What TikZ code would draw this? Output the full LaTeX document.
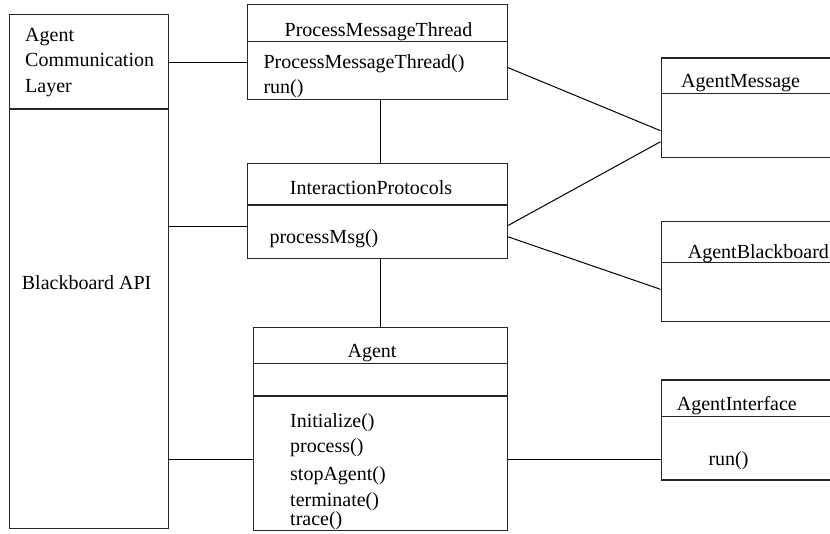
\documentclass[tikz,border=0pt]{standalone}
\usepackage{fontspec}
\setmainfont{Liberation Serif}
\begin{document}
\begin{tikzpicture}[x=1pt,y=-1pt,
  classbox/.style={draw=black!85, line width=1.2pt, inner sep=0pt, anchor=north west},
  rule/.style={draw=black!85, line width=1.1pt},
  link/.style={draw=black, line width=1pt},
  txt/.style={inner sep=0pt, font=\fontsize{20}{24}\selectfont},
  lefttxt/.style={txt, anchor=base west},
  midtxt/.style={txt, anchor=base}]
% canvas; the right-hand classes run past its edge
\clip (0,0) rectangle (830,533);
\fill[white] (0,0) rectangle (830,533);

% ---- class boxes ----
\node[classbox, minimum width=159pt, minimum height=513.5pt] (acl) at (9,14) {};
\node[classbox, minimum width=260pt, minimum height=95pt] (pmt) at (247,4) {};
\node[classbox, minimum width=259.5pt, minimum height=94.5pt] (ip) at (247,163) {};
\node[classbox, minimum width=254.5pt, minimum height=203pt] (agent) at (252.5,326.5) {};
\node[classbox, minimum width=250pt, minimum height=99.4pt] (am) at (660.5,57.3) {};
\node[classbox, minimum width=250pt, minimum height=99.7pt] (ab) at (660.5,221) {};
\node[classbox, minimum width=250pt, minimum height=100pt] (ai) at (660.5,379.3) {};

% ---- compartment rules ----
\draw[rule] ([yshift=-95pt]acl.north west) -- ([yshift=-95pt]acl.north east);
\draw[rule] ([yshift=-37.7pt]pmt.north west) -- ([yshift=-37.7pt]pmt.north east);
\draw[rule] ([yshift=-42pt]ip.north west) -- ([yshift=-42pt]ip.north east);
\draw[rule] ([yshift=-36.8pt]agent.north west) -- ([yshift=-36.8pt]agent.north east);
\draw[rule] ([yshift=-69.5pt]agent.north west) -- ([yshift=-69.5pt]agent.north east);
\draw[rule] ([yshift=-36pt]am.north west) -- ([yshift=-36pt]am.north east);
\draw[rule] ([yshift=-41.7pt]ab.north west) -- ([yshift=-41.7pt]ab.north east);
\draw[rule] ([yshift=-37.4pt]ai.north west) -- ([yshift=-37.4pt]ai.north east);

% ---- texts ----
\node[lefttxt] (aclA) at (25,41.7) {Agent};
\node[lefttxt] (aclB) at (25,66.7) {Communication};
\node[lefttxt] (aclC) at (25,92.7) {Layer};
\node[lefttxt] (bbapi) at (21.7,289.3) {Blackboard API};

\node[midtxt] (pmtT) at (378.5,36) {ProcessMessageThread};
\node[lefttxt] (pmtM1) at (263.3,68.3) {ProcessMessageThread()};
\node[lefttxt] (pmtM2) at (263.3,93.3) {run()};

\node[midtxt] (ipT) at (371,194.3) {InteractionProtocols};
\node[lefttxt] (ipM1) at (269.3,243.3) {processMsg()};

\node[midtxt] (agT) at (372,357.3) {Agent};
\node[lefttxt] (agM1) at (290,427.3) {Initialize()};
\node[lefttxt] (agM2) at (290,452.3) {process()};
\node[lefttxt] (agM3) at (290,480) {stopAgent()};
\node[lefttxt] (agM4) at (290,506) {terminate()};
\node[lefttxt] (agM5) at (290,525) {trace()};

\node[lefttxt] (amT) at (681,87.3) {AgentMessage};
\node[lefttxt] (abT) at (687.7,258.3) {AgentBlackboard};
\node[lefttxt] (aiT) at (676.7,410.7) {AgentInterface};
\node[lefttxt] (aiM1) at (708.3,465) {run()};

% ---- attachment points on box edges ----
\coordinate (pmtL) at ([yshift=-58pt]pmt.north west);
\coordinate (ipL) at ([yshift=-63pt]ip.north west);
\coordinate (agL) at ([yshift=-133pt]agent.north west);
\coordinate (pmtR) at ([yshift=-63.7pt]pmt.north east);
\coordinate (ipR1) at ([yshift=-62.7pt]ip.north east);
\coordinate (ipR2) at ([yshift=-73.7pt]ip.north east);
\coordinate (amL1) at ([yshift=-73.4pt]am.north west);
\coordinate (amL2) at ([yshift=-84.4pt]am.north west);
\coordinate (abL) at ([yshift=-68.3pt]ab.north west);
\coordinate (aiL) at ([yshift=-80.2pt]ai.north west);

% ---- connectors ----
\draw[link] (pmtL -| acl.east) -- (pmtL);
\draw[link] (ipL -| acl.east) -- (ipL);
\draw[link] (agL -| acl.east) -- (agL);
\draw[link] (agent.north |- pmt.south) -- (agent.north |- ip.north);
\draw[link] (agent.north |- ip.south) -- (agent.north);
\draw[link] (pmtR) -- (amL1);
\draw[link] (ipR1) -- (amL2);
\draw[link] (ipR2) -- (abL);
\draw[link] (aiL -| agent.east) -- (aiL);
\end{tikzpicture}
\end{document}
